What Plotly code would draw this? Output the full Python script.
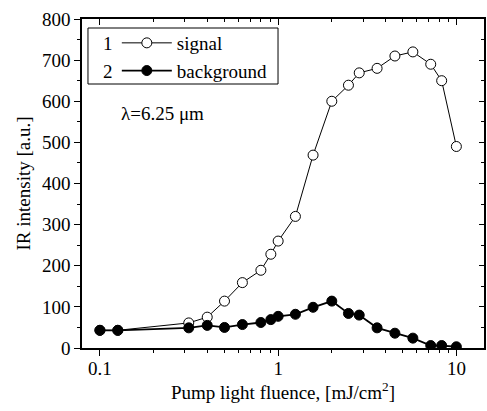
import plotly.graph_objects as go

fluence = [0.1, 0.126, 0.315, 0.4, 0.5, 0.63, 0.8, 0.91, 1.0, 1.25, 1.57, 2.0, 2.48, 2.85, 3.59, 4.52, 5.7, 7.18, 8.27, 10.0]
signal = [43, 43, 61, 75, 114, 159, 189, 228, 260, 320, 469, 600, 639, 669, 680, 710, 720, 690, 650, 490]
background = [43, 43, 49, 55, 50, 57, 62, 69, 77, 82, 99, 114, 84, 80, 49, 36, 24, 6, 6, 3]

FONT = "Times New Roman"
L, R, T, B = 82, 1, 19, 63
W, H = 487, 411
PW, PH = W - L - R, H - T - B

def px(x):
    return (x - L) / PW

def py(y):
    return (H - B - y) / PH

fig = go.Figure()
fig.add_trace(go.Scatter(x=fluence, y=signal, mode="lines+markers", name="signal",
                         line=dict(color="black", width=1),
                         marker=dict(symbol="circle", size=10, color="white",
                                     line=dict(color="black", width=1))))
fig.add_trace(go.Scatter(x=fluence, y=background, mode="lines+markers", name="background",
                         line=dict(color="black", width=1.8),
                         marker=dict(symbol="circle", size=10, color="black",
                                     line=dict(color="black", width=1))))
# invisible trace to host the inner-tick mirror axes
fig.add_trace(go.Scatter(x=fluence, y=signal, xaxis="x2", yaxis="y2", mode="markers",
                         marker=dict(opacity=0), showlegend=False, hoverinfo="skip"))

minor_x = [0.2, 0.3, 0.4, 0.5, 0.6, 0.7, 0.8, 0.9, 2, 3, 4, 5, 6, 7, 8, 9]
xr = [-1.1006, 1.155]
fig.update_layout(
    width=W, height=H,
    margin=dict(l=L, r=R, t=T, b=B),
    paper_bgcolor="white", plot_bgcolor="white",
    font=dict(family=FONT, size=18, color="black"),
    xaxis=dict(type="log", range=xr, showgrid=False, zeroline=False,
               showline=True, linecolor="black", linewidth=1.5, mirror=True,
               ticks="outside", ticklen=6, tickwidth=1, tickcolor="black",
               tickvals=[0.1, 1, 10], ticktext=["0.1", "1", "10"],
               minor=dict(ticks="outside", ticklen=3, tickvals=minor_x),
               tickfont=dict(family=FONT, size=19), ticklabelstandoff=-4,
               title=dict(text="Pump light fluence, [mJ/cm<sup>2</sup>]", font=dict(family=FONT, size=19), standoff=6)),
    yaxis=dict(range=[0, 800], showgrid=False, zeroline=False,
               showline=True, linecolor="black", linewidth=1.5, mirror=True,
               ticks="outside", ticklen=6, tickwidth=1, tickcolor="black",
               dtick=100, minor=dict(ticks="outside", ticklen=3, dtick=50),
               tickfont=dict(family=FONT, size=19),
               title=dict(text="IR intensity [a.u.]", font=dict(family=FONT, size=19), standoff=6)),
    xaxis2=dict(type="log", range=xr, overlaying="x", side="top", anchor="y",
                showgrid=False, zeroline=False, showticklabels=False,
                ticks="inside", ticklen=6, tickcolor="black", tickvals=[0.1, 1, 10],
                minor=dict(ticks="inside", ticklen=3, tickvals=minor_x)),
    yaxis2=dict(range=[0, 800], overlaying="y", side="right", anchor="x",
                showgrid=False, zeroline=False, showticklabels=False,
                ticks="inside", ticklen=5, tickcolor="black", dtick=100,
                minor=dict(ticks="inside", ticklen=3, dtick=50)),
    showlegend=True,
    legend=dict(x=px(117), y=py(24), xanchor="left", yanchor="top",
                bgcolor="rgba(0,0,0,0)", borderwidth=0, itemwidth=50,
                font=dict(family=FONT, size=19), tracegroupgap=0),
)

# legend frame and numbers
fig.add_shape(type="rect", xref="paper", yref="paper",
              x0=px(88), x1=px(279), y0=py(84), y1=py(28),
              line=dict(color="black", width=1))
for label, yy in (("1", 43), ("2", 71)):
    fig.add_annotation(text=label, xref="paper", yref="paper", x=px(108), y=py(yy),
                       xanchor="center", yanchor="middle",
                       showarrow=False, font=dict(family=FONT, size=19))
fig.add_annotation(text="λ=6.25 μm", xref="paper", yref="paper", x=px(163), y=py(113),
                   xanchor="center", yanchor="middle",
                   showarrow=False, font=dict(family=FONT, size=19))

fig.write_html("out.html", config={"displayModeBar": False},
               post_script="document.body.style.margin='0px';")
